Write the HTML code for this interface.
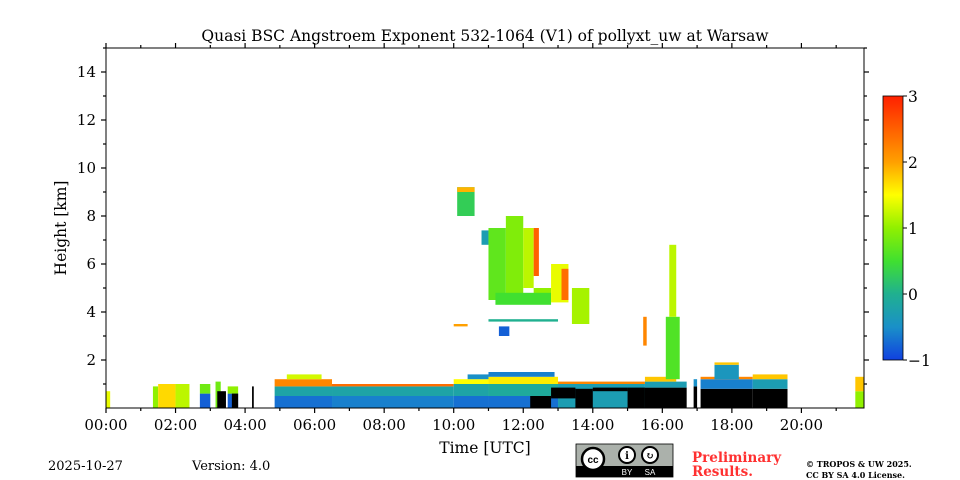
<!DOCTYPE html>
<html><head><meta charset="utf-8"><style>
body{margin:0;background:#fff;width:960px;height:480px;overflow:hidden}
svg{display:block;font-family:"DejaVu Serif","Liberation Serif",serif}
</style></head><body>
<svg id="c" width="960" height="480" viewBox="0 0 960 480">
<defs><linearGradient id="cg" x1="0" y1="1" x2="0" y2="0">
<stop offset="0" stop-color="#1040e0"/><stop offset="0.125" stop-color="#1a90c8"/><stop offset="0.25" stop-color="#20b090"/><stop offset="0.375" stop-color="#40e030"/><stop offset="0.5" stop-color="#90f000"/><stop offset="0.625" stop-color="#ffff00"/><stop offset="0.75" stop-color="#ffa000"/><stop offset="1" stop-color="#ff2000"/></linearGradient></defs>
<g id="cells"></g>
<g id="axes"></g>
<text x="485" y="41" font-size="15.5" text-anchor="middle">Quasi BSC Angstroem Exponent 532-1064 (V1) of pollyxt_uw at Warsaw</text>
<text x="485" y="453" font-size="15.5" text-anchor="middle">Time [UTC]</text>
<text transform="translate(66,228) rotate(-90)" font-size="15.5" text-anchor="middle">Height [km]</text>
<rect x="883" y="96" width="20" height="264" fill="url(#cg)" stroke="#000" stroke-width="0.8"/>
<g id="cbt" font-size="15.5"></g>
<text x="48" y="470" font-size="13">2025-10-27</text>
<text x="192" y="470" font-size="13">Version: 4.0</text>
<g>
<rect x="576" y="444" width="97" height="33" fill="#abb1ab" stroke="#000" stroke-width="0.8"/>
<rect x="576" y="466" width="97" height="11" fill="#000"/>
<circle cx="593" cy="459" r="11" fill="#fff" stroke="#000" stroke-width="2.5"/>
<text x="593" y="463" font-size="10" font-weight="bold" text-anchor="middle" font-family="Liberation Sans">cc</text>
<circle cx="627" cy="455" r="8" fill="#fff" stroke="#000" stroke-width="2"/>
<circle cx="650" cy="455" r="8" fill="#fff" stroke="#000" stroke-width="2"/>
<text x="627" y="459" font-size="10" text-anchor="middle" font-weight="bold">i</text>
<text x="650" y="459" font-size="10" text-anchor="middle" font-weight="bold">↻</text>
<text x="627" y="475" font-size="8" fill="#fff" text-anchor="middle" font-family="Liberation Sans">BY</text>
<text x="650" y="475" font-size="8" fill="#fff" text-anchor="middle" font-family="Liberation Sans">SA</text>
</g>
<text x="692" y="462" font-size="13.5" font-weight="bold" fill="#ff3030">Preliminary</text>
<text x="692" y="476" font-size="13.5" font-weight="bold" fill="#ff3030">Results.</text>
<text x="806" y="467" font-size="8" font-weight="bold">© TROPOS &amp; UW 2025.</text>
<text x="806" y="478" font-size="8" font-weight="bold">CC BY SA 4.0 License.</text>
</svg>
<script>
// cells: [tStart(h), tEnd(h), hStart(km), hEnd(km), value (null = black)]
const cells = [
[0.0,0.12,0,0.7,1.4],
[1.35,1.5,0,0.9,1.0],[1.5,2.0,0,1.0,1.7],[2.0,2.4,0,1.0,1.2],
[2.7,3.0,0,0.6,-0.8],[2.7,3.0,0.6,1.0,0.8],
[3.15,3.3,0,1.1,0.8],[3.2,3.45,0,0.7,null],[3.5,3.8,0,0.6,-0.8],[3.5,3.8,0.6,0.9,1.0],[3.62,3.8,0,0.6,null],
[4.2,4.25,0,0.9,null],
[4.85,6.5,0,0.5,-0.7],[4.85,6.5,0.5,0.9,-0.2],[4.85,6.5,0.9,1.2,2.2],[5.2,6.2,1.2,1.4,1.3],
[6.5,10.0,0,0.5,-0.6],[6.5,10.0,0.5,0.9,-0.2],[6.5,10.0,0.9,1.0,2.4],
[10.0,11.0,0,0.5,-0.7],[10.0,11.0,0.5,1.0,-0.2],[10.0,11.0,1.0,1.2,1.5],[10.4,11.0,1.2,1.4,-0.5],
[11.0,13.0,0,0.5,-0.7],[11.0,13.0,0.5,1.0,-0.1],[11.0,13.0,1.0,1.3,1.6],[11.0,12.9,1.3,1.5,-0.6],
[13.0,15.5,0,1.0,-0.3],[13.0,15.5,1.0,1.1,2.2],
[12.2,12.8,0,0.5,null],[12.8,13.5,0.4,0.85,null],[13.5,14.0,0,0.8,null],[14.0,15.0,0.7,0.85,null],[15.0,15.5,0,0.85,null],
[15.5,16.7,0,0.85,null],[15.5,16.7,0.85,1.1,-0.3],[15.5,16.4,1.1,1.3,1.8],
[16.1,16.5,1.2,3.8,0.6],[16.2,16.4,3.8,6.8,1.2],
[16.9,17.0,0,0.9,null],[16.9,17.0,0.9,1.2,-0.5],
[17.1,18.6,0,0.8,null],[17.1,18.6,0.8,1.2,-0.6],[17.1,18.6,1.2,1.3,2.2],[17.5,18.2,1.2,1.8,-0.4],[17.5,18.2,1.8,1.9,1.8],
[18.6,19.6,0,0.8,null],[18.6,19.6,0.8,1.2,-0.3],[18.6,19.6,1.2,1.4,1.8],
[21.55,21.8,0,0.7,1.0],[21.55,21.8,0.7,1.3,1.8],
[10.1,10.6,8.0,9.2,0.3],[10.1,10.6,9.0,9.2,1.9],[10.8,11.0,6.8,7.4,-0.3],
[11.0,11.5,4.5,7.5,0.7],[11.5,12.0,4.5,8.0,0.9],[12.0,12.3,5.0,7.5,1.2],[12.3,12.45,5.5,7.5,2.5],[12.3,12.8,4.5,5.0,1.0],
[11.2,12.8,4.3,4.8,0.5],[12.8,13.3,4.4,6.0,1.4],[13.1,13.3,4.5,5.8,2.4],[13.4,13.9,3.5,5.0,1.1],
[10.0,10.4,3.4,3.5,2.0],[11.0,13.0,3.6,3.7,0.0],[11.3,11.6,3.0,3.4,-0.8],
[15.45,15.55,2.6,3.8,2.2]
];
const xTicks=["00:00","02:00","04:00","06:00","08:00","10:00","12:00","14:00","16:00","18:00","20:00"];
const yTicks=[2,4,6,8,10,12,14];
const cbTicks=[3,2,1,0,-1];
const X0=106,X1=864,Y0=408,Y1=48;
const x=t=>X0+t*(X1-X0)/21.8;
const y=h=>Y0-h*(Y0-Y1)/15;
const cy=v=>360-(v+1)*264/4;
const stops=[[-1,[16,64,224]],[-0.5,[26,144,200]],[0,[32,176,144]],[0.5,[64,224,48]],[1,[144,240,0]],[1.5,[255,255,0]],[2,[255,160,0]],[3,[255,32,0]]];
function col(v){if(v===null)return"#000";v=Math.max(-1,Math.min(3,v));for(let i=0;i<stops.length-1;i++){const[a,ca]=stops[i],[b,cb]=stops[i+1];if(v<=b){const f=(v-a)/(b-a);return"rgb("+ca.map((c,k)=>Math.round(c+(cb[k]-c)*f)).join(",")+")";}}return"#ff2000";}
const NS="http://www.w3.org/2000/svg";
function mk(tag,at,p){const e=document.createElementNS(NS,tag);for(const k in at)e.setAttribute(k,at[k]);p.appendChild(e);return e;}
const G=document.getElementById("cells");
cells.forEach(c=>{const r=mk("rect",{x:x(c[0]),y:y(c[3]),width:x(c[1])-x(c[0]),height:y(c[2])-y(c[3]),fill:col(c[4])},G);

});
const A=document.getElementById("axes");
const fr=mk("rect",{x:X0,y:Y1,width:X1-X0,height:Y0-Y1,fill:"none",stroke:"#000","stroke-width":1},A);


for(let h=0;h<=21;h++){const L=h%2?3:5;
mk("line",{x1:x(h),x2:x(h),y1:Y0,y2:Y0+L,stroke:"#000","stroke-width":1.2},A);
mk("line",{x1:x(h),x2:x(h),y1:Y1,y2:Y1-L,stroke:"#000","stroke-width":1.2},A);}
xTicks.forEach((s,i)=>{const t=mk("text",{x:x(i*2),y:430,"font-size":15,"text-anchor":"middle"},A);t.textContent=s;

});
for(let h=1;h<=15;h+=1){const L=h%2?3:5;
mk("line",{x1:X0-L,x2:X0,y1:y(h),y2:y(h),stroke:"#000","stroke-width":1.2},A);
mk("line",{x1:X1,x2:X1+L,y1:y(h),y2:y(h),stroke:"#000","stroke-width":1.2},A);}
yTicks.forEach(v=>{const t=mk("text",{x:96,y:y(v)+5,"font-size":15,"text-anchor":"end"},A);t.textContent=v;

});
const CB=document.getElementById("cbt");
cbTicks.forEach(v=>{mk("line",{x1:903,x2:907,y1:cy(v),y2:cy(v),stroke:"#000"},CB);
const t=mk("text",{x:908,y:cy(v)+6},CB);t.textContent=v<0?"−"+(-v):v;

});
</script>
</body></html>
